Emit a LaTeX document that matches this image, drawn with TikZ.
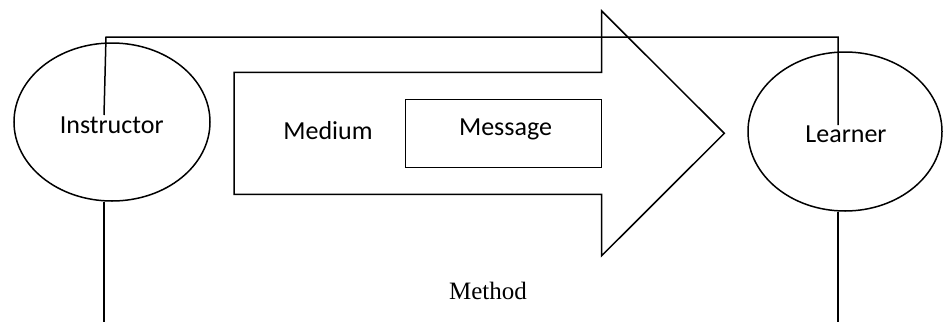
\documentclass[tikz,border=0pt]{standalone}
\usepackage{fontspec}
\usetikzlibrary{shapes.geometric}
\setmainfont{Carlito}
\newfontfamily\serifface{Liberation Serif}
\begin{document}
\begin{tikzpicture}[x=1pt,y=-1pt,
  outline/.style={draw=black,line width=1.5pt},
  party/.style={outline,ellipse,minimum width=196pt,minimum height=158pt,inner sep=0pt},
  txt/.style={font=\fontsize{26}{30}\selectfont,anchor=base,inner sep=0pt},
  wire/.style={draw=black,line width=1.5pt}]
\useasboundingbox (0,0) rectangle (943,322);
% the two parties
\node[party] (instr) at (112,122) {};
\node[party,minimum width=194pt,minimum height=159pt] (learner) at (845,131.5) {};
\node[txt] (tinstr) at (111.7,133) {Instructor};
\node[txt] (tlearner) at (846,142) {Learner};
% the medium: a block arrow
\coordinate (a1) at (234,72.3);
\coordinate (a2) at (601.7,72.3);
\coordinate (a3) at (601.7,11);
\coordinate (tip) at (724.3,133.3);
\coordinate (a5) at (601.7,255.7);
\coordinate (a6) at (601.7,194.3);
\coordinate (a7) at (234,194.3);
\draw[outline,line join=miter] (a1) -- (a2) -- (a3) -- (tip) -- (a5) -- (a6) -- (a7) -- cycle;
\node[txt] (medium) at (328,139) {Medium};
\node[outline,minimum width=196pt,minimum height=68pt,inner sep=0pt] (msgbox) at (503.5,133.3) {};
\node[txt] (msg) at (505.5,135) {Message};
% the method frame linking both parties
\coordinate (iin) at (104,115);
\coordinate (itop) at (106,37);
\coordinate (ltop) at (838,37);
\coordinate (lin) at (838,125);
\coordinate (ibot) at (104,322);
\coordinate (lbot) at (838,322);
\draw[wire] (iin) -- (itop) -- (ltop) -- (lin);
\draw[wire] (instr.south) ++(-8,0) -- (ibot);
\draw[wire] (learner.south) ++(-7,0) -- (lbot);
\node[font=\serifface\fontsize{25}{30}\selectfont,anchor=base,inner sep=0pt] (method) at (488,299) {Method};
\end{tikzpicture}
\end{document}
